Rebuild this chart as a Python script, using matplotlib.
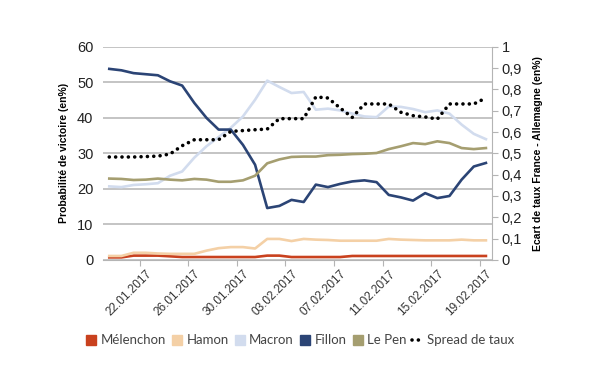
import matplotlib
matplotlib.use("Agg")
import numpy as np
from matplotlib import pyplot as plt
from matplotlib.lines import Line2D

# 19.01.2017 .. 19.02.2017, one point per day
dates = ['19.01.2017', '20.01.2017', '21.01.2017', '22.01.2017', '23.01.2017', '24.01.2017',
         '25.01.2017', '26.01.2017', '27.01.2017', '28.01.2017', '29.01.2017', '30.01.2017',
         '31.01.2017', '01.02.2017', '02.02.2017', '03.02.2017', '04.02.2017', '05.02.2017',
         '06.02.2017', '07.02.2017', '08.02.2017', '09.02.2017', '10.02.2017', '11.02.2017',
         '12.02.2017', '13.02.2017', '14.02.2017', '15.02.2017', '16.02.2017', '17.02.2017',
         '18.02.2017', '19.02.2017']

melenchon = [0.7, 0.7, 1.2, 1.2, 1.2, 1.0, 0.8, 0.8, 0.8, 0.8, 0.8, 0.8, 0.8, 1.2, 1.2, 0.8,
             0.8, 0.8, 0.8, 0.8, 1.1, 1.1, 1.1, 1.1, 1.1, 1.1, 1.1, 1.1, 1.1, 1.1, 1.1, 1.1]
hamon = [1.1, 1.1, 2.0, 2.0, 1.8, 1.7, 1.7, 1.7, 2.6, 3.3, 3.6, 3.6, 3.2, 5.9, 5.9, 5.3,
         5.9, 5.7, 5.6, 5.4, 5.4, 5.4, 5.4, 5.9, 5.7, 5.6, 5.5, 5.5, 5.5, 5.7, 5.5, 5.5]
macron = [20.7, 20.5, 21.1, 21.3, 21.6, 23.7, 24.9, 28.8, 32.0, 34.6, 37.2, 40.4, 45.1, 50.5,
          48.7, 47.0, 47.3, 42.3, 42.6, 42.1, 41.2, 40.4, 40.2, 43.2, 43.1, 42.5, 41.6, 42.1,
          41.2, 38.1, 35.5, 34.0]
fillon = [53.8, 53.4, 52.6, 52.3, 52.0, 50.3, 49.1, 44.2, 40.0, 36.7, 36.7, 32.4, 26.8, 14.6,
          15.2, 16.9, 16.3, 21.2, 20.5, 21.4, 22.1, 22.4, 21.9, 18.3, 17.6, 16.7, 18.8, 17.4,
          18.0, 22.6, 26.3, 27.3]
lepen = [22.9, 22.8, 22.5, 22.6, 22.9, 22.6, 22.4, 22.8, 22.6, 22.0, 22.0, 22.4, 23.7, 27.2,
         28.3, 29.0, 29.1, 29.1, 29.5, 29.6, 29.8, 29.9, 30.1, 31.2, 32.0, 32.9, 32.6, 33.4,
         32.9, 31.5, 31.2, 31.5]
spread = [0.483, 0.483, 0.483, 0.485, 0.487, 0.497, 0.536, 0.564, 0.564, 0.564, 0.603, 0.607,
          0.611, 0.614, 0.663, 0.663, 0.663, 0.765, 0.760, 0.713, 0.669, 0.732, 0.732, 0.732,
          0.693, 0.677, 0.671, 0.661, 0.732, 0.732, 0.732, 0.760]

names = ['Mélenchon', 'Hamon', 'Macron', 'Fillon', 'Le Pen']
colors = ['#c9411e', '#f4d0a6', '#d2dcee', '#2b4475', '#a59e70']
series = [melenchon, hamon, macron, fillon, lepen]

plt.rcParams['font.family'] = ['Liberation Sans', 'DejaVu Sans']

fig = plt.figure(figsize=(6, 3.75), dpi=100)
ax = fig.add_axes([0.172, 0.307, 0.648, 0.568])
ax2 = ax.twinx()

x = np.arange(len(dates))
for vals, c in zip(series, colors):
    ax.plot(x, vals, color=c, lw=1.9, solid_joinstyle='round', zorder=3)

ax2.plot(x, spread, color='black', lw=2.6, linestyle=(0, (0.01, 1.75)),
         dash_capstyle='round', zorder=4)

ax.set_xlim(-0.5, len(dates) - 0.5)
ax.set_ylim(0, 60)
ax2.set_ylim(0, 1)

ax.set_yticks(np.arange(0, 61, 10))
ax.yaxis.grid(True, color='#b4b4b4', lw=1.1)
ax.set_axisbelow(True)
ax.tick_params(axis='y', length=0, labelsize=10.5, colors='#222222', pad=7)

ax2.set_yticks(np.arange(0, 1.01, 0.1))
ax2.set_yticklabels(['0'] + [('%.1f' % v).replace('.', ',') for v in np.arange(0.1, 0.95, 0.1)] + ['1'])
ax2.tick_params(axis='y', length=4, color='#b4b4b4', labelsize=10.5, labelcolor='#222222', pad=3)

# ticks at category boundaries, labels on categories
ax.set_xticks(np.arange(2.5, len(dates), 4))
ax.set_xticklabels([])
ax.tick_params(axis='x', which='major', length=4, color='#b4b4b4')
ax.set_xticks(np.arange(3, len(dates), 4), minor=True)
ax.set_xticklabels(dates[3::4], minor=True, rotation=45, ha='right', va='top',
                   rotation_mode='anchor', fontsize=8.5, color='#333333')
ax.tick_params(axis='x', which='minor', length=0, pad=6)

for s in ['top', 'left', 'right']:
    ax.spines[s].set_visible(False)
for s in ['top', 'left', 'bottom']:
    ax2.spines[s].set_visible(False)
ax.spines['bottom'].set_color('#b4b4b4')
ax2.spines['right'].set_color('#b4b4b4')

ax.set_ylabel('Probabilité de victoire (en%)', fontsize=7.5, fontweight='bold',
              family=['Liberation Sans Narrow', 'Liberation Sans'], labelpad=6)
ax2.set_ylabel('Ecart de taux France - Allemagne (en%)', fontsize=7.5, fontweight='bold',
               family=['Liberation Sans Narrow', 'Liberation Sans'], labelpad=8)

handles = [Line2D([], [], marker='s', linestyle='none', markersize=7, color=c) for c in colors]
handles.append(Line2D([], [], color='black', lw=2.6, linestyle=(0, (0.01, 1.75)),
                      dash_capstyle='round'))
fig.legend(handles, names + ['Spread de taux'], loc='center', bbox_to_anchor=(0.5, 0.093),
           ncol=6, frameon=False, handlelength=0.8, handletextpad=0.3,
           columnspacing=0.45, labelcolor='#444444', prop={'family': 'Lato', 'size': 9.5})

fig.savefig('out.png', dpi=100)
